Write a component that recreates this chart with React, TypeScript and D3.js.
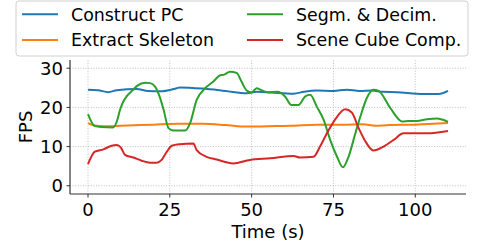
import React from 'react';
import * as d3 from 'd3';

const W = 478;
const H = 243;

const seriesNames = ['Construct PC', 'Extract Skeleton', 'Segm. & Decim.', 'Scene Cube Comp.'];
const seriesColors = ['#1f77b4', '#ff7f0e', '#2ca02c', '#d62728'];

const xTicks = [0, 25, 50, 75, 100];
const yTicks = [0, 10, 20, 30];

// Construct PC
const constructT = [0, 3, 6.2, 8.8, 14.9, 18.3, 22, 27.1, 28.1, 35, 42, 48.5, 51.5, 56, 62.8, 66, 70, 75, 79.1, 83, 86.7, 90, 94.4, 100.5, 104, 107.1, 110];
const constructV = [24.5, 24.4, 23.9, 24.4, 24.7, 24.2, 24.1, 24.9, 25.1, 24.8, 24.2, 23.6, 24, 23.8, 23.5, 24, 24.3, 24.2, 24.5, 24.2, 24.3, 24, 23.9, 23.5, 23.4, 23.4, 24.2];

// Extract Skeleton
const skeletonT = [0, 2, 5, 10, 20, 28, 35, 42, 48.5, 55, 62, 70, 78, 84, 87.8, 92, 100, 110];
const skeletonV = [16, 15.4, 15.2, 15.3, 15.6, 15.8, 15.8, 15.5, 15.1, 15.2, 15.3, 15.6, 15.6, 15.7, 15.3, 15.5, 15.6, 16];

// Segm. & Decim.
const segmT = [0, 2, 4, 7.7, 8.8, 9.8, 10.8, 11.8, 13.8, 15, 17.5, 19, 20.5, 22, 23.1, 24.6, 26, 29.7, 31.2, 33.2, 35.8, 38.3, 40.4, 41.4, 43.4, 45.4, 46.9, 48.5, 50, 51.5, 53, 55, 58, 60.2, 62.2, 64.3, 66.4, 67.9, 69.9, 72, 74, 76.1, 77.9, 79.6, 81.7, 83.2, 85.2, 87.2, 88.8, 92.4, 96, 98, 100.5, 103.6, 106.7, 108.7, 110];
const segmV = [18.3, 15.3, 15, 14.9, 16.4, 19.4, 21.5, 22.8, 24.5, 25.5, 26.3, 26.2, 25.3, 22.5, 19.4, 14.7, 14.1, 14.1, 16, 21.9, 24.9, 26.6, 28.2, 28.3, 29.1, 28.8, 26.6, 24.3, 23.8, 24.9, 24.4, 23.9, 24, 22.8, 20.6, 20.6, 22.8, 23.2, 20.2, 16.8, 11.7, 7.4, 4.7, 7.4, 13.4, 17.6, 22.4, 24.5, 24.2, 19.8, 16.4, 16.5, 16.5, 17, 17.2, 16.8, 16.3];

// Scene Cube Comp.
const cubeT = [0, 2.1, 4.7, 7.2, 8.8, 10, 11.3, 13.9, 16.4, 19, 21, 22.5, 24.1, 25.6, 28.1, 32.2, 33.2, 36.2, 39.3, 44.4, 49.5, 55.7, 62.8, 64.8, 68.9, 70.9, 73, 76.1, 78.6, 80.6, 82.7, 85, 87.2, 90.3, 93.4, 96.4, 103.6, 110];
const cubeV = [5.5, 8.7, 9.3, 10.2, 10.4, 9.8, 7.9, 7.2, 6.4, 5.9, 5.9, 6.6, 8.7, 10.2, 10.6, 10.8, 9.1, 7.4, 6.7, 5.7, 6.6, 7, 7.6, 7.2, 7.4, 10, 13.4, 17.6, 19.5, 18.7, 14.7, 11, 9, 10, 11.7, 13.4, 13.4, 14];

const allT = [constructT, skeletonT, segmT, cubeT];
const allV = [constructV, skeletonV, segmV, cubeV];

const font = '"DejaVu Sans", sans-serif';

export default function App() {
  const x = d3.scaleLinear().domain([-5.5, 115.5]).range([70, 466]);
  const y = d3.scaleLinear().domain([-2.1, 32.1]).range([194, 60]);

  const line = d3.line<[number, number]>()
    .x(d => x(d[0]))
    .y(d => y(d[1]))
    .curve(d3.curveMonotoneX);

  const [x0, x1] = x.range();
  const [yb, yt] = y.range();

  return (
    <svg width={W} height={H} style={{ position: 'absolute', left: 0, top: 0, background: '#fff' }}
      fontFamily={font}>
      {/* grid */}
      {xTicks.map(t => (
        <line key={'gx' + t} x1={x(t)} x2={x(t)} y1={yb} y2={yt} stroke="#b0b0b0"
          strokeWidth={0.8} strokeDasharray="1,1.6" />
      ))}
      {yTicks.map(t => (
        <line key={'gy' + t} x1={x0} x2={x1} y1={y(t)} y2={y(t)} stroke="#b0b0b0"
          strokeWidth={0.8} strokeDasharray="1,1.6" />
      ))}

      {/* series */}
      {allT.map((ts, i) => (
        <path key={seriesNames[i]}
          d={line(ts.map((t, j) => [t, allV[i][j]] as [number, number])) || ''}
          fill="none" stroke={seriesColors[i]} strokeWidth={2} strokeLinejoin="round" />
      ))}

      {/* axes */}
      <line x1={x0} x2={x0} y1={yb} y2={yt} stroke="#333" strokeWidth={1.2} />
      <line x1={x0} x2={x1} y1={yb} y2={yb} stroke="#333" strokeWidth={1.2} />
      {xTicks.map(t => (
        <g key={'xt' + t}>
          <line x1={x(t)} x2={x(t)} y1={yb} y2={yb + 3.5} stroke="#333" strokeWidth={1} />
          <text x={x(t)} y={yb + 22} textAnchor="middle" fontSize={18} fill="#000">{t}</text>
        </g>
      ))}
      {yTicks.map(t => (
        <g key={'yt' + t}>
          <line x1={x0 - 3.5} x2={x0} y1={y(t)} y2={y(t)} stroke="#333" strokeWidth={1} />
          <text x={x0 - 7} y={y(t) + 6.5} textAnchor="end" fontSize={18} fill="#000">{t}</text>
        </g>
      ))}
      <text x={268} y={238} textAnchor="middle" fontSize={18} fill="#000">Time (s)</text>
      <text transform={`translate(32,127) rotate(-90)`} textAnchor="middle" fontSize={18} fill="#000">FPS</text>

      {/* legend */}
      <rect x={16} y={1} width={452} height={55} rx={3} fill="#fff" fillOpacity={0.8}
        stroke="#d0d0d0" strokeWidth={1} />
      {seriesNames.map((name, i) => {
        const col = Math.floor(i / 2);
        const row = i % 2;
        const lx = col === 0 ? 22 : 247;
        const ly = row === 0 ? 14.3 : 40;
        return (
          <g key={'lg' + name}>
            <line x1={lx} x2={lx + 36} y1={ly} y2={ly} stroke={seriesColors[i]} strokeWidth={2} />
            <text x={lx + 49} y={ly + 6.4} fontSize={17.4} fill="#000">{name}</text>
          </g>
        );
      })}
    </svg>
  );
}
